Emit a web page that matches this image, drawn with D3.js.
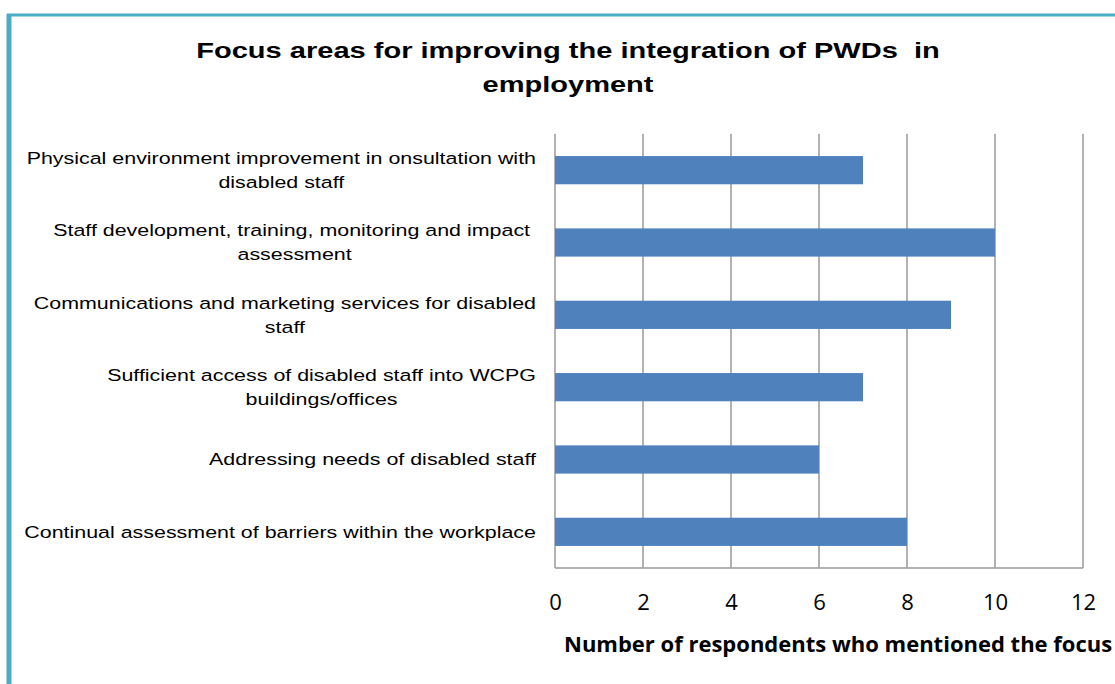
<!DOCTYPE html>
<html>
<head>
<meta charset="utf-8">
<script src="https://cdn.jsdelivr.net/npm/d3@7"></script>
<style>
  body { margin: 0; background: #fff; }
  svg { display: block; }
</style>
</head>
<body>
<div id="chart"></div>
<script>
// chart data
var categories = [
  ["Physical environment improvement in onsultation with", "disabled staff"],
  ["Staff development, training, monitoring and impact ", "assessment"],
  ["Communications and marketing services for disabled", "staff"],
  ["Sufficient access of disabled staff into WCPG", "buildings/offices"],
  ["Addressing needs of disabled staff"],
  ["Continual assessment of barriers within the workplace"]
];
var values = [7, 10, 9, 7, 6, 8];
var xTicks = [0, 2, 4, 6, 8, 10, 12];
var titleLines = ["Focus areas for improving the integration of PWDs  in", "employment"];
var xTitle = "Number of respondents who mentioned the focus";

var W = 1115, H = 684;
var margin = {top: 134, right: 32, bottom: 116, left: 555};
var width = W - margin.left - margin.right;
var height = H - margin.top - margin.bottom;

// the source picture is stretched sideways, so the Arial text is too
var stretch = 1.26;

var svg = d3.select("#chart")
  .append("svg")
  .attr("width", W)
  .attr("height", H);

// frame border
svg.append("line")
  .attr("x1", 7).attr("x2", W).attr("y1", 15).attr("y2", 15)
  .attr("stroke", "#4bacc6").attr("stroke-width", 3);
svg.append("line")
  .attr("x1", 9).attr("x2", 9).attr("y1", 14).attr("y2", H)
  .attr("stroke", "#4bacc6").attr("stroke-width", 5);

// title
svg.append("g")
  .attr("transform", "translate(568,0) scale(1.32,1)")
  .append("text")
  .attr("text-anchor", "middle")
  .style("font-family", "Liberation Sans, Arial, sans-serif")
  .style("font-weight", "bold")
  .style("font-size", "22px")
  .style("white-space", "pre")
  .selectAll("tspan")
  .data(titleLines)
  .enter()
  .append("tspan")
  .attr("x", 0)
  .attr("y", function(d, i) { return 58 + i * 34; })
  .text(function(d) { return d; });

var g = svg.append("g")
  .attr("transform", "translate(" + margin.left + "," + margin.top + ")");

var x = d3.scaleLinear().domain([0, 12]).range([0, width]);
var y = d3.scaleBand()
  .domain(d3.range(categories.length))
  .range([0, height])
  .paddingInner(0.61)
  .paddingOuter(0.305);

// gridlines
g.selectAll(".grid")
  .data(xTicks)
  .enter()
  .append("line")
  .attr("x1", function(d) { return x(d); })
  .attr("x2", function(d) { return x(d); })
  .attr("y1", 0)
  .attr("y2", height)
  .attr("stroke", "#999")
  .attr("stroke-width", 1.5);

g.append("line")
  .attr("x1", 0).attr("x2", width)
  .attr("y1", height).attr("y2", height)
  .attr("stroke", "#999")
  .attr("stroke-width", 1.5);

// bars
g.selectAll(".bar")
  .data(values)
  .enter()
  .append("rect")
  .attr("x", x(0))
  .attr("y", function(d, i) { return y(i); })
  .attr("width", function(d) { return x(d) - x(0); })
  .attr("height", y.bandwidth())
  .attr("fill", "#4f81bd");

// x axis labels
var xAxis = g.append("g")
  .attr("transform", "translate(0," + height + ")")
  .call(d3.axisBottom(x).tickValues(xTicks).tickSize(0).tickPadding(26));
xAxis.select(".domain").remove();
xAxis.selectAll("text")
  .style("font-family", "Open Sans, Carlito, sans-serif")
  .style("font-size", "22px")
  .attr("fill", "#000");

// x axis title
svg.append("text")
  .attr("x", 564)
  .attr("y", 652)
  .style("font-family", "Open Sans, Carlito, sans-serif")
  .style("font-weight", "bold")
  .style("font-size", "22px")
  .text(xTitle);

// category labels: lines centred on each other, block right-aligned
var labelGroup = g.append("g")
  .attr("transform", "translate(-19,0) scale(" + stretch + ",1)");

var labels = labelGroup.selectAll(".cat")
  .data(categories)
  .enter()
  .append("text")
  .attr("text-anchor", "middle")
  .style("font-family", "Liberation Sans, Arial, sans-serif")
  .style("font-size", "17px")
  .style("white-space", "pre")
  .attr("fill", "#000");

labels.selectAll("tspan")
  .data(function(d, i) {
    return d.map(function(t, j) { return {t: t, j: j, n: d.length, i: i}; });
  })
  .enter()
  .append("tspan")
  .attr("x", 0)
  .attr("y", function(d) {
    var c = y(d.i) + y.bandwidth() / 2;
    return c + 6 + (d.j - (d.n - 1) / 2) * 24;
  })
  .text(function(d) { return d.t; });

// shift every block so its widest line ends at the axis
labels.each(function() {
  var widest = 0;
  d3.select(this).selectAll("tspan").each(function() {
    widest = Math.max(widest, this.getComputedTextLength());
  });
  d3.select(this).selectAll("tspan").attr("x", -widest / 2);
});
</script>
</body>
</html>
